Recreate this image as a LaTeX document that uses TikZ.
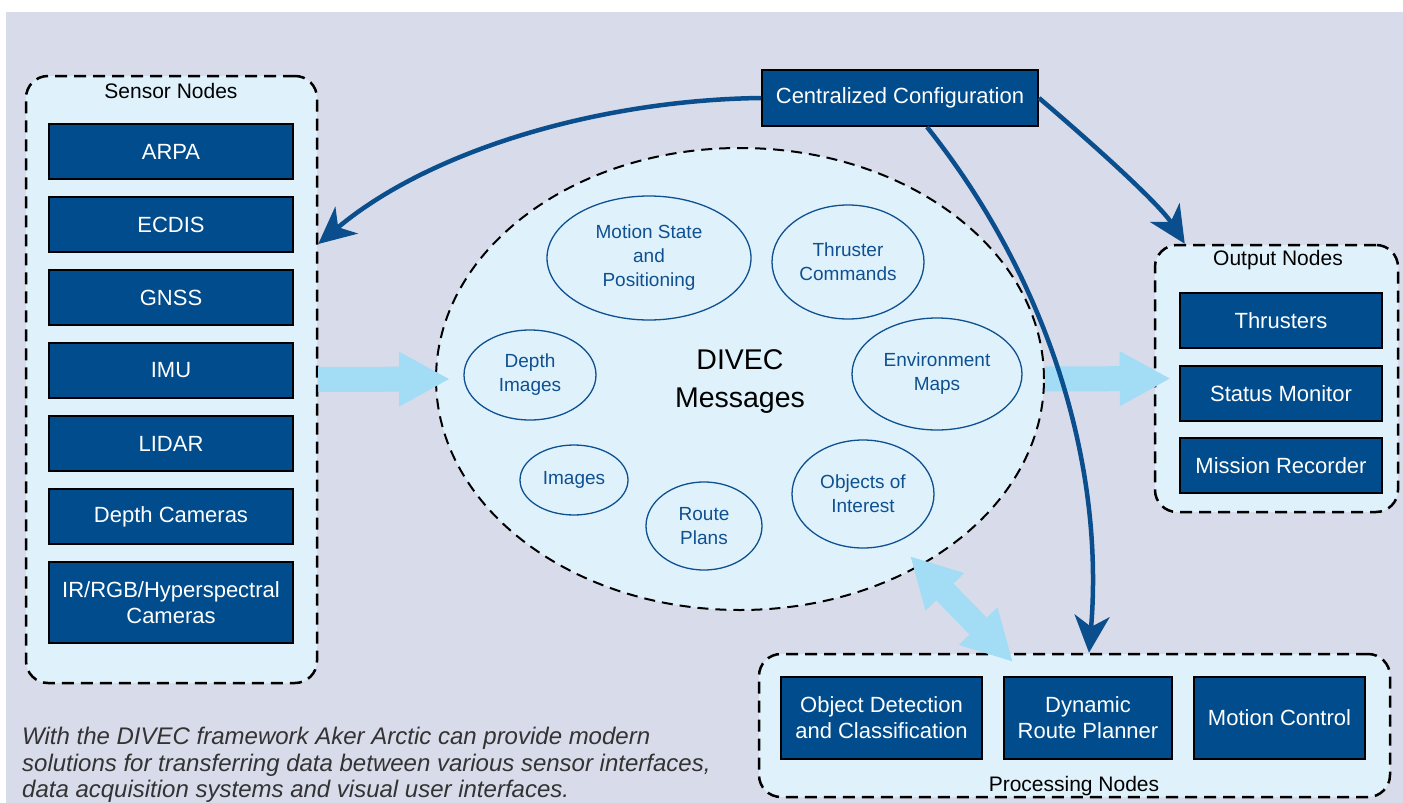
\documentclass[tikz,border=0pt]{standalone}
\usepackage{fontspec}
\setmainfont{Liberation Sans}
\usetikzlibrary{arrows.meta,shapes.geometric,calc}

\definecolor{bgcol}{HTML}{D8DBE9}
\definecolor{panel}{HTML}{DFF2FC}
\definecolor{boxblue}{HTML}{004C8C}
\definecolor{linkblue}{HTML}{0A4E8D}
\definecolor{flowblue}{HTML}{A3DCF5}
\definecolor{msgtext}{HTML}{0F5090}

\newcommand{\fsz}[2]{\fontsize{#1}{#2}\selectfont}

\begin{document}
\begin{tikzpicture}[x=1pt,y=-1pt,
  group/.style={draw=black, line width=2.5pt, dash pattern=on 12pt off 7pt,
    fill=panel, rounded corners=22pt, inner sep=0pt},
  unit/.style={draw=black, line width=2pt, fill=boxblue, text=white,
    inner sep=0pt, align=center, font=\fsz{22}{26}},
  msg/.style={ellipse, draw=msgtext, line width=1.3pt, text=msgtext,
    inner sep=0pt, align=center, font=\fsz{19}{24}},
  grouptitle/.style={font=\fsz{21}{25}, inner sep=0pt},
  link/.style={draw=linkblue, line width=4.5pt,
    -{Stealth[length=37pt,width=35pt,inset=11pt]}},
  flow/.style={draw=flowblue, line width=25pt,
    -{Triangle[length=51pt,width=51pt]}},
  flowboth/.style={draw=flowblue, line width=24pt,
    {Triangle[length=50pt,width=50pt]}-{Triangle[length=50pt,width=50pt]}},
]
\useasboundingbox (0,0) rectangle (1403,803);
\fill[bgcol] (6,12) rectangle (1403,803);

% group panels
\node[group, minimum width=291pt, minimum height=607pt] (sensors) at (171.5,379.5) {};
\node[group, minimum width=243pt, minimum height=267pt] (outputs) at (1276.5,378.5) {};
\node[group, minimum width=631pt, minimum height=143pt] (procs) at (1074.5,725.5) {};

\node[grouptitle] (sensorstitle) at (171,91) {Sensor Nodes};
\node[grouptitle] (outputstitle) at (1278,260) {Output Nodes};
\node[grouptitle] (procstitle) at (1074,786) {Processing Nodes};

% sensor nodes
\begin{scope}[every node/.style={unit, minimum width=244pt, minimum height=55pt}]
  \node (arpa)  at (171,151.5) {ARPA};
  \node (ecdis) at (171,224.5) {ECDIS};
  \node (gnss)  at (171,297.5) {GNSS};
  \node (imu)   at (171,370.5) {IMU};
  \node (lidar) at (171,443.5) {LIDAR};
  \node (depthcam) at (171,516.5) {Depth Cameras};
  \node[minimum height=81pt] (ircam) at (171,602.5) {IR/RGB/Hyperspectral\\Cameras};
\end{scope}

% output nodes
\begin{scope}[every node/.style={unit, minimum width=202pt, minimum height=55pt}]
  \node (thrusters) at (1281,320.5) {Thrusters};
  \node (status)    at (1281,393.5) {Status Monitor};
  \node (recorder)  at (1281,465.5) {Mission Recorder};
\end{scope}

% processing nodes
\begin{scope}[every node/.style={unit, minimum height=82pt}]
  \node[minimum width=201pt] (objdet)  at (881.5,718) {Object Detection\\and Classification};
  \node[minimum width=168pt] (planner) at (1088,718) {Dynamic\\Route Planner};
  \node[minimum width=171pt] (motion)  at (1279.5,718) {Motion Control};
\end{scope}

% configuration
\node[unit, minimum width=276pt, minimum height=56pt] (cfg) at (900,98) {Centralized Configuration};

% message bus
\node[ellipse, draw=black, line width=2pt, dash pattern=on 11pt off 7pt,
  fill=panel, minimum width=608pt, minimum height=462pt, inner sep=0pt] (msgs) at (740,379) {};
\node[inner sep=0pt, align=center, font=\fsz{28.5}{38}] (msgslabel) at (740,382) {DIVEC\\Messages};

\node[msg, minimum width=204pt, minimum height=124pt] (motionstate) at (649,258) {Motion State\\and\\Positioning};
\node[msg, minimum width=152pt, minimum height=114pt] (thrustcmd) at (848,262) {Thruster\\Commands};
\node[msg, minimum width=170pt, minimum height=112pt] (envmaps) at (937,374) {Environment\\Maps};
\node[msg, minimum width=132pt, minimum height=90pt] (depthimg) at (530,375) {Depth\\Images};
\node[msg, minimum width=108pt, minimum height=70pt] (images) at (574,480) {Images};
\node[msg, minimum width=116pt, minimum height=88pt] (routes) at (704,526) {Route\\Plans};
\node[msg, minimum width=142pt, minimum height=108pt] (objects) at (863,494) {Objects of\\Interest};

% data flow arrows
\draw[flow] (sensors.east) -- ([xshift=15pt]msgs.west);
\draw[flow] (msgs.east) -- ([xshift=17pt]outputs.west);
\coordinate (busend) at (910,556);
\coordinate (procend) at (1013,662);
\draw[flowboth] (busend) -- (procend);

% configuration links
\draw[link] (cfg.west) .. controls (600,100) and (430,150) .. ([yshift=135.5pt]sensors.east);
\draw[link] (cfg.east) .. controls (1100,150) and (1160,205) .. ([xshift=31pt]outputs.north west);
\draw[link] ([xshift=27pt]cfg.south) .. controls (1045,275) and (1105,460) .. ([xshift=14.5pt]procs.north);

% caption
\node[anchor=north west, inner sep=0pt, align=left,
  font=\fsz{24}{26.5}\itshape, text=black!80] (caption) at (22,727)
  {With the DIVEC framework Aker Arctic can provide modern\\
   solutions for transferring data between various sensor interfaces,\\
   data acquisition systems and visual user interfaces.};
\end{tikzpicture}
\end{document}
